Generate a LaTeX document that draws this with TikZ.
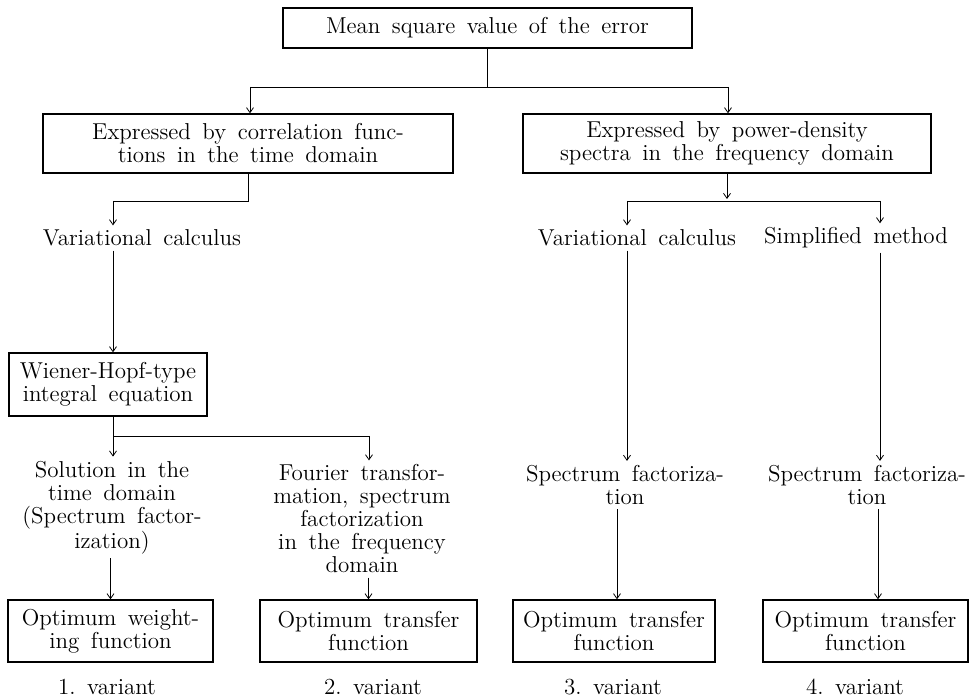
\documentclass[tikz,border=0pt]{standalone}
\usetikzlibrary{arrows.meta}
\newcommand\myfnt{\fontsize{11.5}{11.5}\selectfont\spaceskip=0.5em\relax}
\begin{document}
\begin{tikzpicture}[x=0.5pt,y=-0.5pt,
  every node/.style={font=\myfnt, align=center},
  box/.style={draw, line width=0.7pt, inner sep=0pt},
  txt/.style={inner sep=2pt},
  ln/.style={line width=0.4pt},
  arr/.style={line width=0.4pt, -{Straight Barb[length=2.5pt,width=3.5pt]}}]
\useasboundingbox (0,0) rectangle (970,699);
% boxes
\node[box, minimum width=204.5pt, minimum height=20pt] (top) at (487.5,28) {Mean square value of the error};
\node[box, minimum width=205pt, minimum height=29.5pt] (leftbox) at (248,143.5) {Expressed by correlation func-\\tions in the time domain};
\node[box, minimum width=204pt, minimum height=29.5pt] (rightbox) at (727,143.5) {Expressed by power-density\\spectra in the frequency domain};
\node[box, minimum width=99pt, minimum height=31.5pt] (wiener) at (108,384.5) {Wiener-Hopf-type\\integral equation};
\node[box, minimum width=102.5pt, minimum height=31pt] (box1) at (110.5,631) {Optimum weight-\\ing function};
\node[box, minimum width=108.5pt, minimum height=31pt] (box2) at (368.5,631) {Optimum transfer\\function};
\node[box, minimum width=101pt, minimum height=31pt] (box3) at (614,631) {Optimum transfer\\function};
\node[box, minimum width=102.5pt, minimum height=31pt] (box4) at (865.5,631) {Optimum transfer\\function};
% text nodes
\node[txt] (varL) at (142,238) {Variational calculus};
\node[txt] (varR) at (637,238) {Variational calculus};
\node[txt] (simp) at (856,238) {Simplified method};
\node[txt] (sol) at (112,507.5) {Solution in the\\time domain\\(Spectrum factor-\\ization)};
\node[txt] (four) at (362,519) {Fourier transfor-\\mation, spectrum\\factorization\\in the frequency\\domain};
\node[txt] (spec3) at (625,485) {Spectrum factoriza-\\tion};
\node[txt] (spec4) at (867,485) {Spectrum factoriza-\\tion};
\node[txt] (v1) at (107,687) {1.~variant};
\node[txt] (v2) at (373,687) {2.~variant};
\node[txt] (v3) at (613,687) {3.~variant};
\node[txt] (v4) at (855,687) {4.~variant};
% junction coordinates
\coordinate (jL) at (250,87);
\coordinate (jR) at (728,87);
\coordinate (a) at (113,201);
\coordinate (b) at (369,436);
\coordinate (c) at (627,201);
\coordinate (d) at (880,201);
\coordinate (e) at (617,560);
\coordinate (f) at (878,560);
% connectors
\draw[ln] (top.south) -- (top.south |- jL);
\draw[ln] (jL) -- (jR);
\draw[arr] (jL) -- (jL |- leftbox.north);
\draw[arr] (jR) -- (jR |- rightbox.north);
\draw[ln] (leftbox.south) -- (leftbox.south |- a) -- (a);
\draw[arr] (a) -- (a |- varL.north);
\draw[arr] (a |- varL.south) -- (a |- wiener.north);
\draw[arr] (a |- wiener.south) -- (a |- sol.north);
\draw[ln] (a |- b) -- (b);
\draw[arr] (b) -- (b |- four.north);
\draw[arr] (sol.south -| box1.north) -- (box1.north);
\draw[arr] (four.south -| box2.north) -- (box2.north);
\draw[arr] (rightbox.south) -- ([yshift=1pt]rightbox.south |- c);
\draw[ln] (c) -- (d);
\draw[arr] (c) -- (c |- varR.north);
\draw[arr] (d) -- (d |- simp.north);
\draw[arr] (c |- varR.south) -- (c |- spec3.north);
\draw[arr] (d |- simp.south) -- (d |- spec4.north);
\draw[arr] (e |- spec3.south) -- (e |- box3.north);
\draw[arr] (f |- spec4.south) -- (f |- box4.north);
\end{tikzpicture}
\end{document}
